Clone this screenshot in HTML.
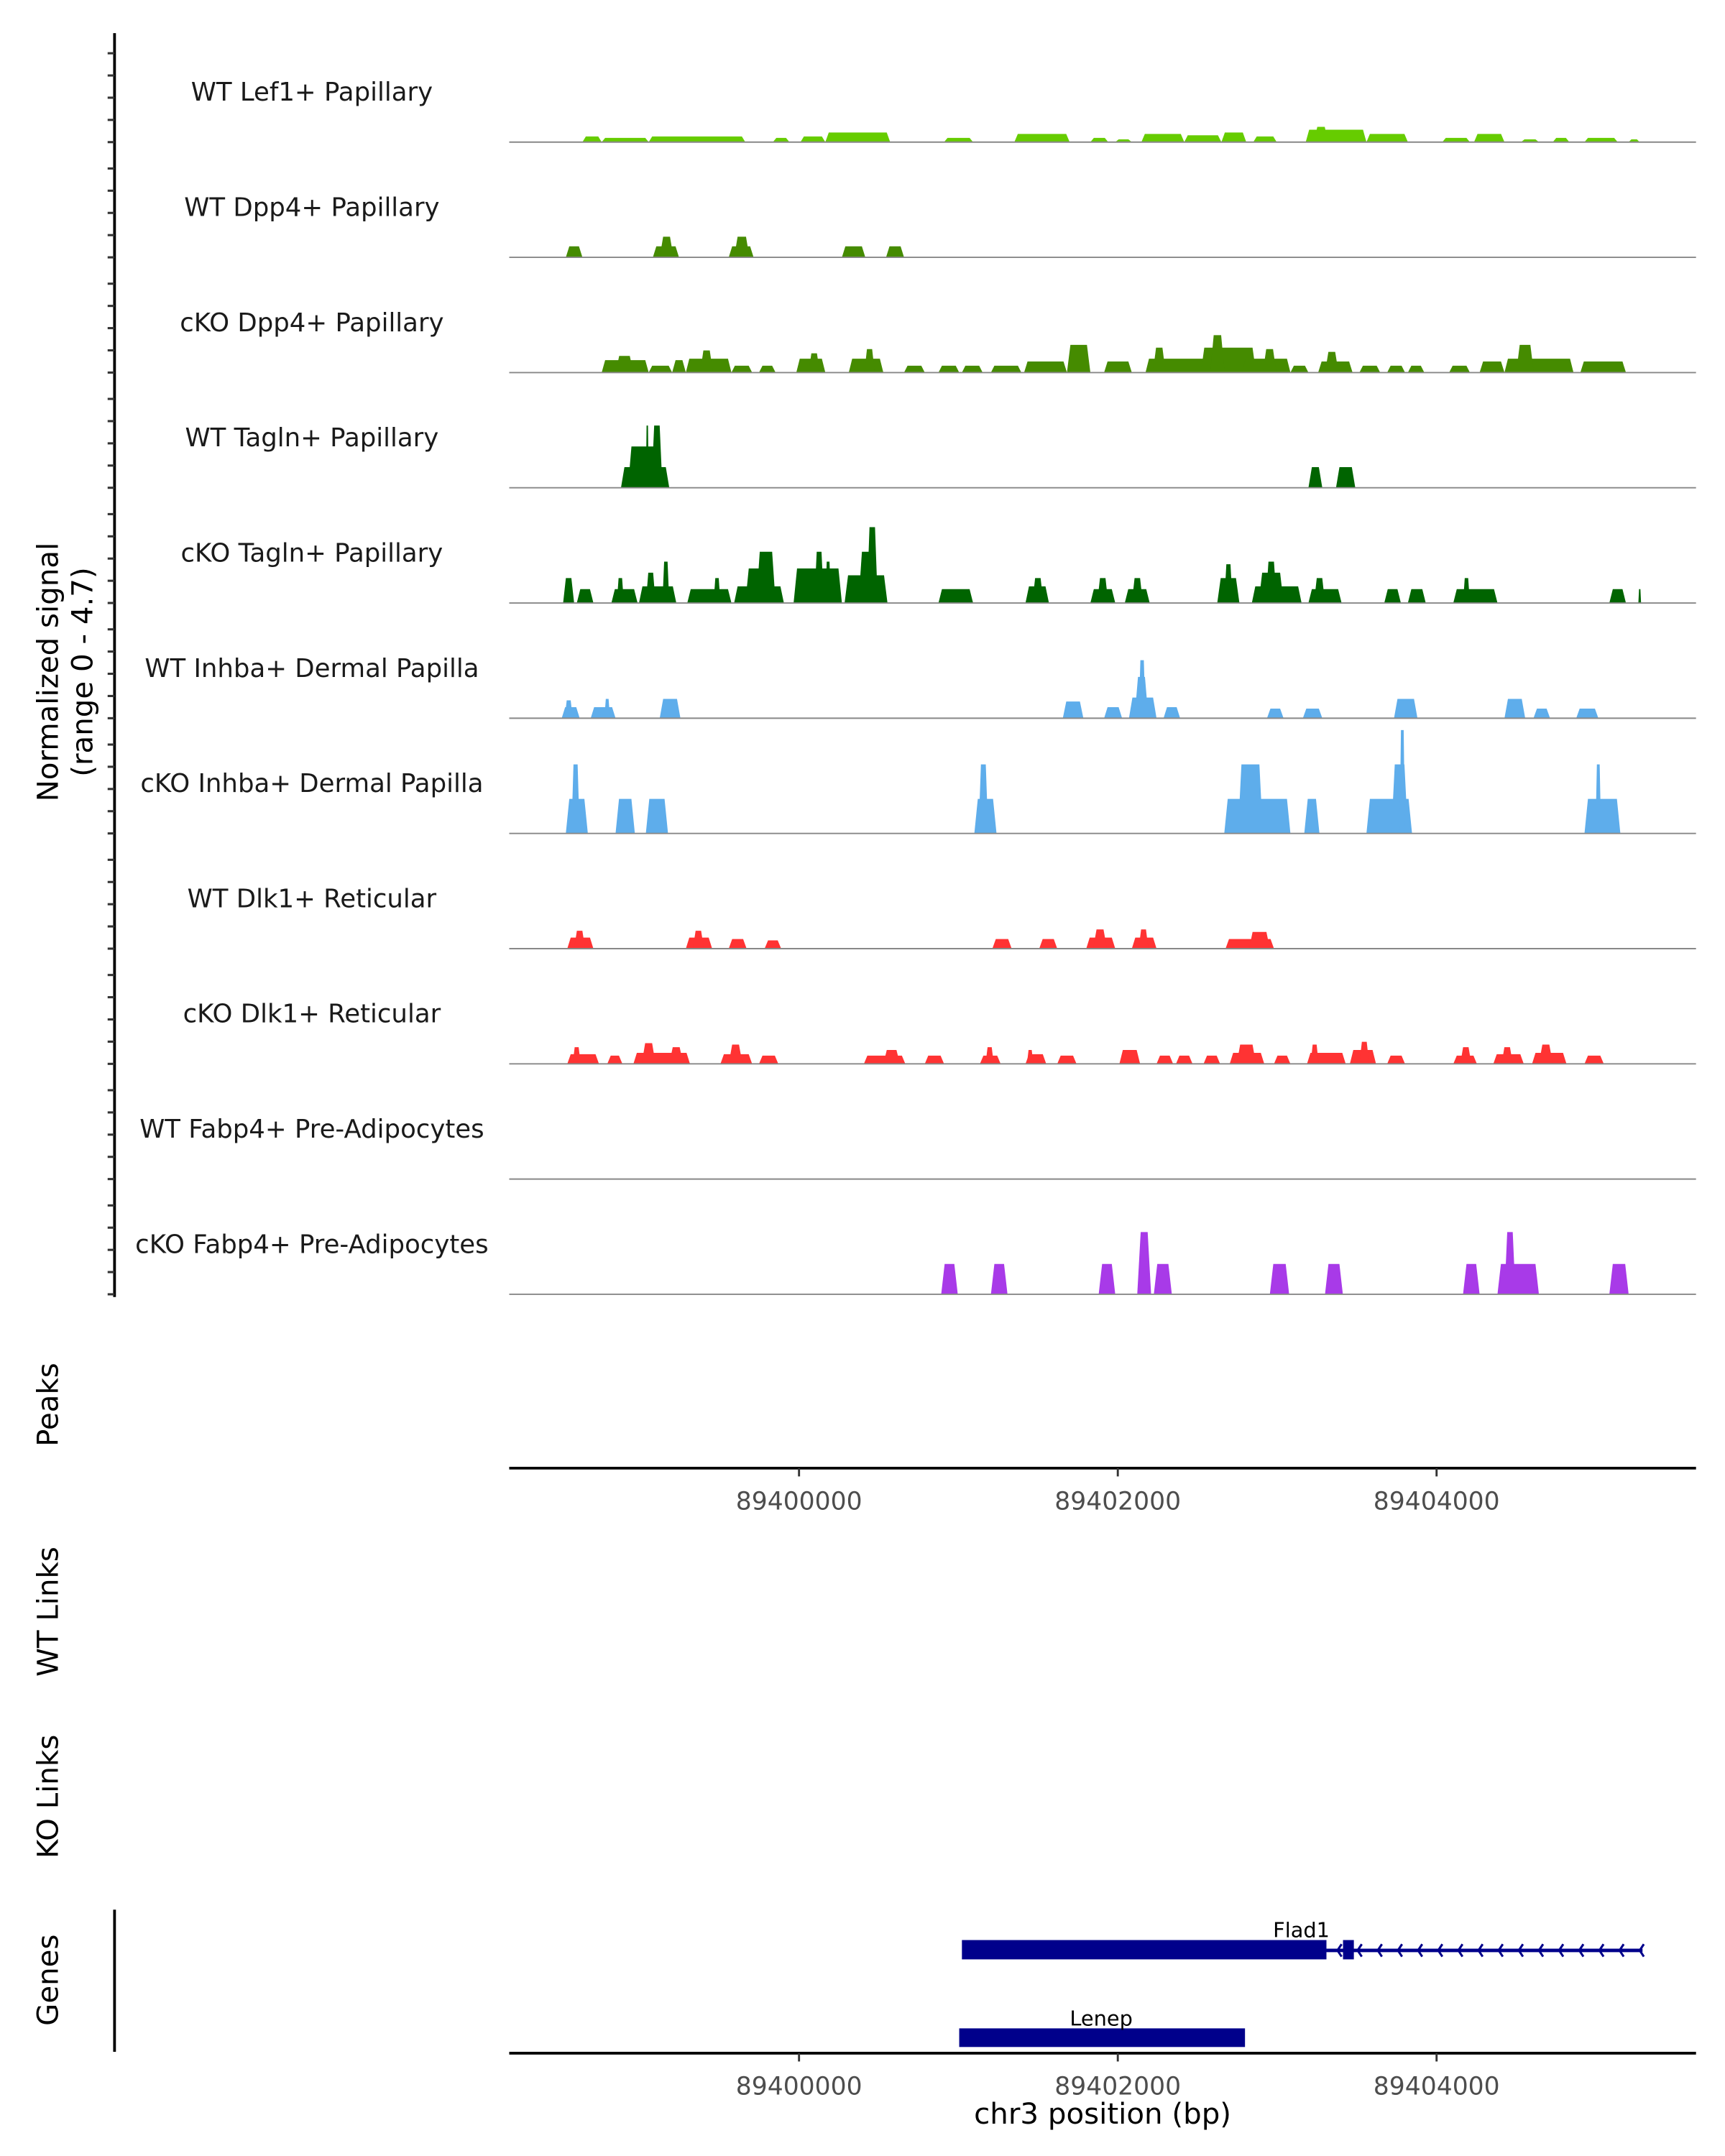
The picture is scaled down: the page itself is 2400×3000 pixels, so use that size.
<!DOCTYPE html>
<html><head><meta charset="utf-8"><style>
html,body{margin:0;padding:0;background:#fff;}
svg{display:block;}
text{font-family:"DejaVu Sans","Liberation Sans",sans-serif;}
</style></head><body>
<svg id="chart" xmlns="http://www.w3.org/2000/svg" width="2400" height="3000" viewBox="0 0 1250 1562.5">
<rect width="1250" height="1562.5" fill="#fff"/>
<g id="g"></g>
</svg>
<script>
// region: chr3, positions stored as offset (bp) from 89398000
const regionOffset = 89398000;
const axisTicks = [89400000, 89402000, 89404000];
const axisTickLabels = ["89400000", "89402000", "89404000"];
const trackNames = ["WT Lef1+ Papillary","WT Dpp4+ Papillary","cKO Dpp4+ Papillary","WT Tagln+ Papillary","cKO Tagln+ Papillary","WT Inhba+ Dermal Papilla","cKO Inhba+ Dermal Papilla","WT Dlk1+ Reticular","cKO Dlk1+ Reticular","WT Fabp4+ Pre-Adipocytes","cKO Fabp4+ Pre-Adipocytes"];
const trackColors = ["#66cc00","#458b00","#458b00","#006400","#006400","#5eadeb","#5eadeb","#ff3333","#ff3333","#a83ae8","#a83ae8"];
const signalMax = 4.7;
// segments: [start, end, value]
const lef1WT = [[641,762,.24],[762,1057,.18],[1057,1663,.24],[1836,1940,.18],[2009,2165,.24],[2165,2572,.41],[2910,3092,.18],[3351,3698,.35],[3828,3940,.18],[3984,4088,.12],[4148,4417,.35],[4417,4650,.29],[4650,4806,.41],[4850,4997,.24],[5179,5560,.53],[5230,5320,.65],[5560,5820,.35],[6036,6209,.18],[6235,6426,.35],[6530,6642,.12],[6729,6833,.18],[6928,7136,.18],[7205,7274,.12]];
const dpp4WT = [[537,641,.47],[1083,1247,.47],[1126,1212,.88],[1559,1715,.47],[1593,1689,.88],[2269,2416,.47],[2546,2659,.47]];
const dpp4KO = [[762,1057,.53],[850,960,.71],[1057,1204,.29],[1204,1290,.53],[1290,1576,.59],[1380,1460,.94],[1576,1706,.29],[1749,1853,.29],[1983,2165,.59],[2060,2130,.82],[2312,2529,.59],[2410,2475,1.0],[2659,2789,.29],[2875,3005,.29],[3022,3152,.29],[3204,3395,.29],[3412,3681,.47],[3681,3828,1.18],[3914,4088,.47],[4174,4607,.59],[4220,4300,1.06],[4521,4867,1.06],[4580,4670,1.59],[4780,5083,.59],[4910,4995,1.0],[5083,5196,.29],[5257,5473,.47],[5300,5385,.88],[5516,5646,.29],[5690,5802,.29],[5820,5923,.29],[6079,6209,.29],[6270,6426,.47],[6426,6859,.59],[6500,6610,1.18],[6902,7188,.47]];
const taglnWT = [[883,1186,.88],[927,1143,1.76],[1039,1057,2.65],[1074,1143,2.65],[5196,5283,.88],[5369,5490,.88]];
const taglnKO = [[520,589,1.06],[606,710,.59],[823,987,.59],[857,901,1.06],[996,1230,.71],[1039,1100,1.29],[1143,1186,1.76],[1299,1576,.59],[1464,1507,1.06],[1593,1905,.71],[1663,1793,1.47],[1732,1853,2.18],[1966,2269,1.47],[2096,2156,2.18],[2165,2200,1.76],[2286,2555,1.18],[2373,2494,2.18],[2425,2494,3.23],[2875,3092,.59],[3421,3568,.71],[3464,3533,1.06],[3828,3984,.59],[3871,3940,1.06],[4044,4200,.59],[4088,4157,1.06],[4624,4763,1.06],[4668,4720,1.65],[4841,5153,.71],[4884,5040,1.29],[4928,4997,1.76],[5196,5404,.59],[5231,5300,1.06],[5672,5776,.59],[5820,5932,.59],[6105,6382,.59],[6166,6209,1.06],[7084,7188,.59],[7266,7283,.59]];
const inhbaWT = [[511,624,.47],[530,580,.76],[693,849,.47],[779,814,.82],[1126,1256,.82],[3655,3784,.71],[3914,4027,.47],[4070,4243,.88],[4105,4192,1.76],[4131,4174,2.47],[4287,4391,.47],[4936,5040,.41],[5161,5283,.41],[5733,5880,.82],[6426,6556,.82],[6608,6712,.41],[6876,7015,.41]];
const inhbaKO = [[537,675,1.47],[572,624,2.94],[849,970,1.47],[1039,1178,1.47],[3100,3239,1.47],[3126,3187,2.94],[4668,5083,1.47],[4754,4910,2.94],[5170,5265,1.47],[5560,5846,1.47],[5716,5820,2.94],[5768,5802,4.4],[6928,7153,1.47],[6997,7032,2.94]];
const dlk1WT = [[546,710,.47],[589,658,.76],[1290,1455,.47],[1334,1403,.76],[1559,1671,.41],[1784,1888,.35],[3213,3334,.41],[3507,3620,.41],[3802,3984,.47],[3845,3932,.82],[4088,4243,.47],[4131,4192,.82],[4676,4980,.41],[4824,4954,.71]];
const dlk1KO = [[546,745,.41],[580,630,.71],[797,892,.35],[961,1316,.47],[1013,1100,.88],[1186,1273,.71],[1507,1706,.41],[1559,1645,.82],[1749,1870,.35],[2407,2667,.35],[2529,2633,.59],[2789,2910,.35],[3135,3265,.35],[3170,3222,.71],[3421,3551,.41],[3430,3470,.59],[3620,3741,.35],[4010,4140,.59],[4243,4347,.35],[4365,4469,.35],[4538,4642,.35],[4702,4919,.47],[4746,4867,.82],[4980,5083,.35],[5187,5430,.47],[5210,5260,.82],[5456,5620,.59],[5516,5577,.94],[5690,5802,.35],[6105,6253,.35],[6149,6218,.71],[6356,6547,.41],[6408,6478,.71],[6599,6815,.47],[6642,6729,.82],[6928,7049,.35]];
const fabp4WT = [];
const fabp4KO = [[2892,2996,1.29],[3204,3308,1.29],[3880,3984,1.29],[4122,4209,2.65],[4226,4339,1.29],[4954,5075,1.29],[5300,5412,1.29],[6166,6270,1.29],[6382,6642,1.29],[6426,6495,2.65],[7084,7205,1.29]];
const trackData = [lef1WT,dpp4WT,dpp4KO,taglnWT,taglnKO,inhbaWT,inhbaKO,dlk1WT,dlk1KO,fabp4WT,fabp4KO];
// genes: [start, end] offsets
const flad1Thick = [3022, 5309];
const flad1Exon = [5413, 5481];
const flad1Line = [5309, 7292];
const lenepThick = [3005, 4798];

const NS="http://www.w3.org/2000/svg";
const g=document.getElementById('g');
const X0=369, X1=1229;
const refBp=89402000, refX=810, pxPerBp=0.1155;
function xs(bp){return refX+(bp-refBp)*pxPerBp;}
function xo(off){return xs(regionOffset+off);}
const trackH=83.5, plotH=80;
function ys(v,base){return base - v/signalMax*plotH;}
function el(tag,attrs,parent){const e=document.createElementNS(NS,tag);for(const k in attrs)e.setAttribute(k,attrs[k]);(parent||g).appendChild(e);return e;}

// left axis
let ax=el('line',{x1:83,y1:24,x2:83,y2:940,stroke:'#000','stroke-width':2});


for(let t=0;t<11;t++){
  const top=24+t*trackH;
  for(let k=0;k<5;k++){
    const y=top+14.6+k*16.1;
    const tk=el('line',{x1:78,y1:y,x2:83,y2:y,stroke:'#333','stroke-width':1.6});
    
    
  }
}
let yt=el('text',{x:0,y:0,'font-size':21,'text-anchor':'middle',transform:'translate(42,487) rotate(-90)',fill:'#000'});
yt.textContent='Normalized signal';


let yt2=el('text',{x:0,y:0,'font-size':21,'text-anchor':'middle',transform:'translate(67,487) rotate(-90)',fill:'#000'});
yt2.textContent='(range 0 - 4.7)';



for(let t=0;t<trackNames.length;t++){
  const base=103+t*trackH;
  const grp=el('g',{});
  
  
  const lab=el('text',{x:226,y:base-30,'font-size':18.5,'text-anchor':'middle',fill:'#1a1a1a'},grp);
  lab.textContent=trackNames[t];
  
  
  for(const s of trackData[t]){
    const a=xo(s[0]),b=xo(s[1]),ramp=Math.min(2.5,(b-a)/4),yv=ys(s[2],base);
    const p=el('polygon',{points:`${a},${base} ${a+ramp},${yv} ${b-ramp},${yv} ${b},${base}`,fill:trackColors[t]},grp);
    
    
  }
  const bl=el('line',{x1:X0,y1:base,x2:X1,y2:base,stroke:'#888','stroke-width':1},grp);
  
  
}

function sideLabel(txt,y,name){
  const t=el('text',{x:0,y:0,'font-size':21,'text-anchor':'middle',transform:`translate(42,${y}) rotate(-90)`,fill:'#000'});
  t.textContent=txt;
  
  
}
sideLabel('Peaks',1018,'peaks-label');
sideLabel('WT Links',1168,'wt-links-label');
sideLabel('KO Links',1302,'ko-links-label');
sideLabel('Genes',1435,'genes-label');

function xAxis(y,name){
  const grp=el('g',{});
  
  
  el('line',{x1:X0,y1:y,x2:X1,y2:y,stroke:'#000','stroke-width':2},grp);
  axisTicks.forEach((v,i)=>{
    const x=xs(v);
    el('line',{x1:x,y1:y,x2:x,y2:y+6,stroke:'#333','stroke-width':1.5},grp);
    const t=el('text',{x:x,y:y+30,'font-size':18,'text-anchor':'middle',fill:'#4d4d4d'},grp);
    t.textContent=axisTickLabels[i];
    
    
  });
}
xAxis(1064,'peaks-x-axis');
xAxis(1488,'genes-x-axis');
let xt=el('text',{x:799,y:1539,'font-size':21,'text-anchor':'middle',fill:'#000'});
xt.textContent='chr3 position (bp)';


let gl=el('line',{x1:83,y1:1384,x2:83,y2:1487,stroke:'#000','stroke-width':2});



// genes
const gg=el('g',{});


el('line',{x1:xo(flad1Line[0]),y1:1413.5,x2:xo(flad1Line[1]),y2:1413.5,stroke:'#00008b','stroke-width':2.5},gg);
for(let x=xo(flad1Line[0])+8;x<xo(flad1Line[1]);x+=14.6){
  el('polyline',{points:`${x+3},${1409} ${x},${1413.5} ${x+3},${1418}`,fill:'none',stroke:'#00008b','stroke-width':1.6},gg);
}
el('rect',{x:xo(flad1Thick[0]),y:1406,width:xo(flad1Thick[1])-xo(flad1Thick[0]),height:14,fill:'#00008b'},gg);
el('rect',{x:xo(flad1Exon[0]),y:1406,width:xo(flad1Exon[1])-xo(flad1Exon[0]),height:14,fill:'#00008b'},gg);
let f1=el('text',{x:943,y:1404,'font-size':15,'text-anchor':'middle',fill:'#000'},gg);
f1.textContent='Flad1';
const lg=el('g',{});


el('rect',{x:xo(lenepThick[0]),y:1470,width:xo(lenepThick[1])-xo(lenepThick[0]),height:13.5,fill:'#00008b'},lg);
let l1=el('text',{x:798,y:1468,'font-size':15,'text-anchor':'middle',fill:'#000'},lg);
l1.textContent='Lenep';
</script>
</body></html>
